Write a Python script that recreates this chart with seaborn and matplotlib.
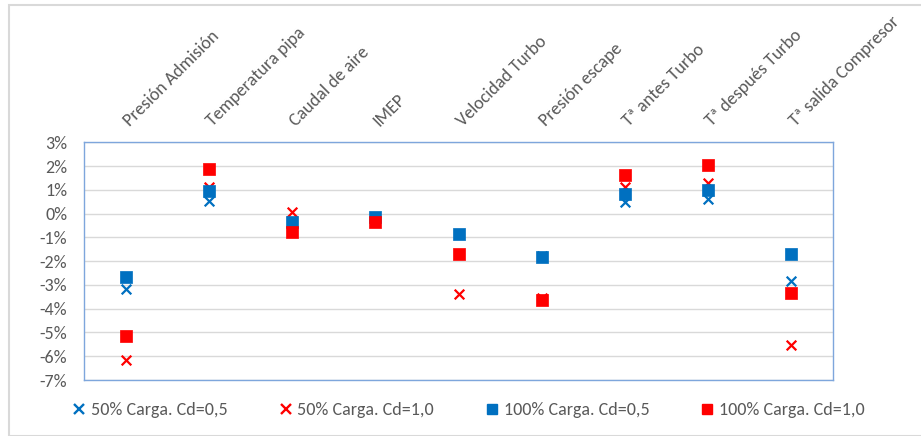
import matplotlib
matplotlib.use("Agg")
import matplotlib.pyplot as plt
import matplotlib.patches as mpatches
from matplotlib.transforms import ScaledTranslation
import seaborn as sns
import pandas as pd

sns.set_theme(style="white")
plt.rcParams["font.family"] = ["Carlito", "DejaVu Sans"]

categories = ["Presión Admisión", "Temperatura pipa", "Caudal de aire", "IMEP",
              "Velocidad Turbo", "Presión escape", "Tª antes Turbo",
              "Tª después Turbo", "Tª salida Compresor"]

# percentage change per variable
carga50_cd05 = [-3.17, 0.53, -0.30, -0.20, -0.85, -1.78, 0.48, 0.63, -2.82]
carga50_cd10 = [-6.16, 1.13, 0.08, -0.30, -3.38, -3.55, 1.11, 1.30, -5.54]
carga100_cd05 = [-2.65, 0.97, -0.37, -0.15, -0.86, -1.84, 0.81, 0.99, -1.70]
carga100_cd10 = [-5.15, 1.88, -0.76, -0.34, -1.70, -3.63, 1.61, 2.03, -3.35]

series_names = ["50% Carga. Cd=0,5", "50% Carga. Cd=1,0",
                "100% Carga. Cd=0,5", "100% Carga. Cd=1,0"]
series_values = [carga50_cd05, carga50_cd10, carga100_cd05, carga100_cd10]
series_colors = ["#0070C0", "#FF0000", "#0070C0", "#FF0000"]
series_markers = ["x", "x", "s", "s"]

TEXT = "#595959"
FS = 13

fig = plt.figure(figsize=(9.21, 4.36), dpi=100)
ax = fig.add_axes([84 / 921, 1 - 380 / 436, (833 - 84) / 921, (380 - 142.3) / 436])

handles = []
for name, vals, col, mk in zip(series_names, series_values, series_colors, series_markers):
    df = pd.DataFrame({"x": range(len(categories)), "y": vals})
    if mk == "x":
        sns.scatterplot(data=df, x="x", y="y", ax=ax, marker="x", s=48,
                        color=col, linewidth=1.6, zorder=3)
        handles.append(plt.Line2D([], [], marker="x", ls="none", color=col,
                                  markersize=6.5, markeredgewidth=1.7, label=name))
    else:
        sns.scatterplot(data=df, x="x", y="y", ax=ax, marker="s", s=72,
                        color=col, edgecolor=col, linewidth=0.5, zorder=4)
        handles.append(plt.Line2D([], [], marker="s", ls="none", color=col,
                                  markersize=7, label=name))

ax.set_xlim(-0.5, len(categories) - 0.5)
ax.set_ylim(-7, 3)
ax.set_yticks(range(-7, 4))
ax.set_yticklabels([f"{v}%" for v in range(-7, 4)])
ax.set_xlabel("")
ax.set_ylabel("")

ax.grid(axis="y", color="#d9d9d9", linewidth=1.0)
ax.grid(axis="x", visible=False)
for sp in ax.spines.values():
    sp.set_color("#7ea6dc")
    sp.set_linewidth(1.0)

ax.tick_params(axis="y", length=0, pad=12, labelsize=FS, labelcolor=TEXT)
ax.xaxis.tick_top()
ax.set_xticks(range(len(categories)))
ax.set_xticklabels(categories, rotation=45, ha="left", va="baseline",
                   rotation_mode="anchor", fontsize=FS, color=TEXT)
ax.tick_params(axis="x", length=0, pad=11)
shift = ScaledTranslation(4 / 100, 0, fig.dpi_scale_trans)
for lab in ax.get_xticklabels():
    lab.set_transform(lab.get_transform() + shift)

# outer frame of the chart area
frame = mpatches.Rectangle((8.5 / 921, 0), 1, 1 - 5.5 / 436, transform=fig.transFigure,
                           fill=False, edgecolor="#d9d9d9", linewidth=1.5)
fig.patches.append(frame)

fig.legend(handles=handles, loc="center left", bbox_to_anchor=(74 / 921, 1 - 410 / 436),
           ncol=4, frameon=False, fontsize=FS, handlelength=0.6, handletextpad=0.35,
           columnspacing=2.9, borderaxespad=0, borderpad=0, labelcolor=TEXT)

fig.savefig("out.png", dpi=100)
